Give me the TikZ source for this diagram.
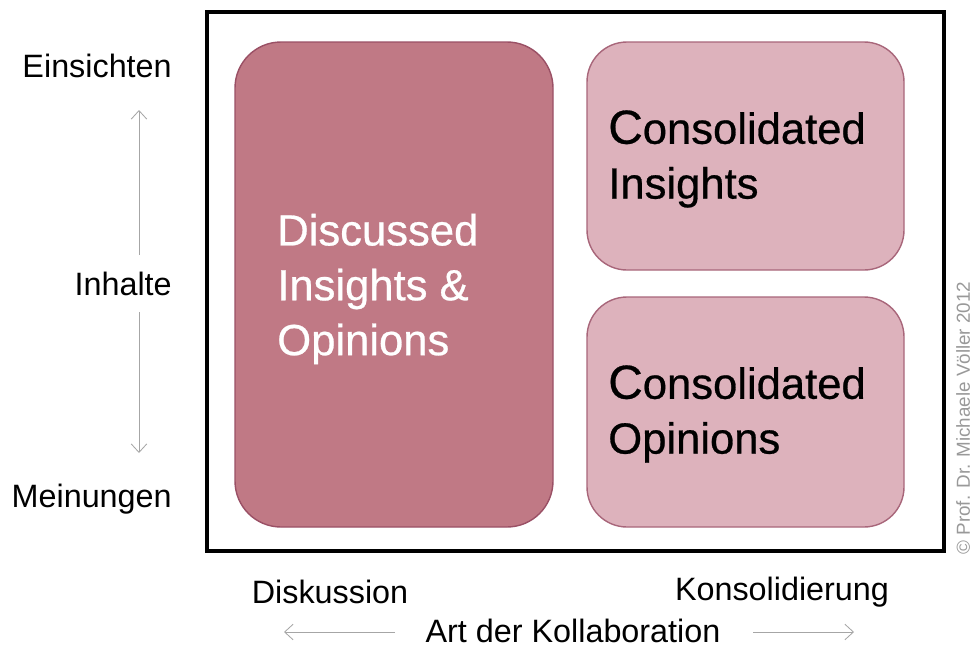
\documentclass[tikz,border=0pt]{standalone}
\usepackage{fontspec}
\setmainfont{Liberation Sans}
\newfontfamily\boxfont[FakeBold=0.6]{Liberation Sans}
\usetikzlibrary{arrows.meta}
\definecolor{darkrose}{HTML}{C07985}
\definecolor{darkroseline}{HTML}{9A5065}
\definecolor{lightrose}{HTML}{DDB2BC}
\definecolor{lightroseline}{HTML}{A8667A}
\newcommand{\bigC}{{\fontsize{34}{39}\selectfont C}}
\tikzset{
  axislabel/.style={font=\fontsize{23}{27}\selectfont, inner sep=0pt},
  axisarrow/.style={draw=gray!70, line width=0.6pt, -{Straight Barb[length=6pt,width=11pt]}},
  bigbox/.style={draw=darkroseline, fill=darkrose, line width=1pt, rounded corners=46*0.025cm},
  smallbox/.style={draw=lightroseline, fill=lightrose, line width=1pt, rounded corners=40*0.025cm},
  boxtext/.style={font=\boxfont\fontsize{31}{39}\selectfont, align=left, anchor=west, inner sep=0pt}
}
\begin{document}
\begin{tikzpicture}[x=0.025cm, y=-0.025cm]
\useasboundingbox (0,0) rectangle (972,645);

\draw [line width=3.2pt] (207,12) rectangle (944,551);

\draw [bigbox] (235,42) rectangle (553,527);
\draw [smallbox] (587,42) rectangle (904,270);
\draw [smallbox] (587,297) rectangle (904,527);

\node [boxtext, text=white] (disc) at (277,289) {Discussed\\Insights \&\\Opinions};
\node [boxtext] (insights) at (608,159) {\bigC onsolidated\\Insights};
\node [boxtext] (opinions) at (608,414) {\bigC onsolidated\\Opinions};

% vertical axis
\node [axislabel, anchor=east] (ein) at (172,66) {Einsichten};
\node [axislabel, anchor=east] (inh) at (172,284) {Inhalte};
\node [axislabel, anchor=east] (mei) at (172,499) {Meinungen};
\coordinate (up0) at (139,255);
\coordinate (up1) at (139,110);
\coordinate (dn0) at (139,312);
\coordinate (dn1) at (139,453);
\draw [axisarrow] (up0) -- (up1);
\draw [axisarrow] (dn0) -- (dn1);

% horizontal axis
\node [axislabel] (disk) at (330,592) {Diskussion};
\node [axislabel] (kons) at (782,592) {Konsolidierung};
\node [axislabel] (art) at (573,631) {Art der Kollaboration};
\coordinate (le0) at (395,632);
\coordinate (le1) at (284,632);
\coordinate (ri0) at (753,632);
\coordinate (ri1) at (854,632);
\draw [axisarrow] (le0) -- (le1);
\draw [axisarrow] (ri0) -- (ri1);

\node [rotate=90, text=gray!80, font=\fontsize{13.4}{16}\selectfont, inner sep=0pt] (copy) at (963,418) {© Prof. Dr. Michaele Völler 2012};
\end{tikzpicture}
\end{document}
